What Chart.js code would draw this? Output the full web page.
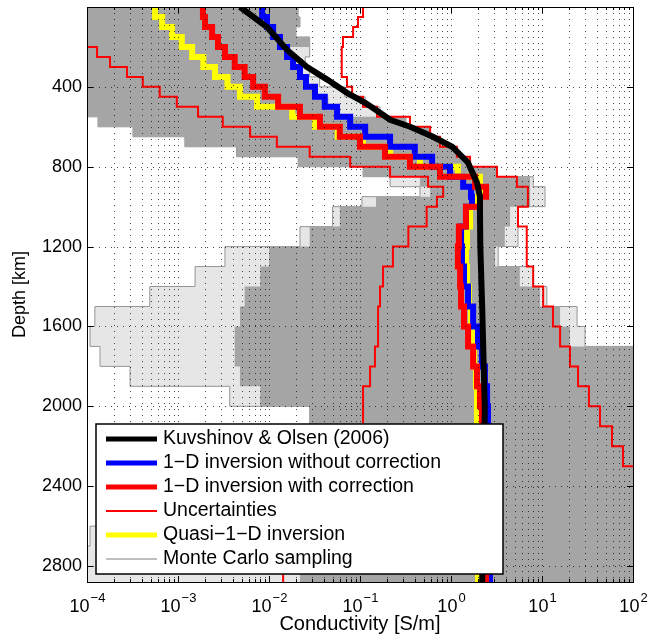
<!DOCTYPE html>
<html>
<head>
<meta charset="utf-8">
<script src="https://cdn.jsdelivr.net/npm/chart.js@4.4.0/dist/chart.umd.min.js"></script>
<style>
  html, body { margin: 0; padding: 0; background: #fff; }
</style>
</head>
<body>
<canvas id="profileChart" width="660" height="638"></canvas>
<script>
// layer tops [km]: 50 km layers down to 1000 km, 100 km layers below
const layerTops = [0, 50, 100, 150, 200, 250, 300, 350, 400, 450, 500, 550, 600, 650, 700, 750, 800, 850, 900, 950,
  1000, 1100, 1200, 1300, 1400, 1500, 1600, 1700, 1800, 1900, 2000, 2100, 2200, 2300, 2400, 2500, 2600, 2700, 2800];
const modelBottom = 2880;

// conductivity per layer [S/m]
const quasi1D = [5.6e-4, 6.7e-4, 8.6e-4, 1.1e-3, 1.43e-3, 1.9e-3, 2.55e-3, 3.5e-3, 4.8e-3, 7.4e-3,
  0.018, 0.032, 0.057, 0.108, 0.214, 0.456, 1.19, 2.08, 2.19, 1.98,
  1.62, 1.50, 1.46, 1.50, 1.58, 1.66, 1.75, 1.79, 1.88, 1.93, 1.93, 1.98, 1.98, 1.98, 1.98, 1.98, 1.98, 1.98, 1.98];
const inv1DCorr = [1.88e-3, 1.98e-3, 2.37e-3, 2.75e-3, 3.28e-3, 4.2e-3, 5.4e-3, 6.7e-3, 9.0e-3, 0.0126,
  0.0219, 0.0363, 0.060, 0.10, 0.188, 0.354, 0.757, 1.84, 2.43, 2.08,
  1.46, 1.22, 1.19, 1.26, 1.29, 1.39, 1.54, 1.75, 1.93, 2.08, 2.19, 2.31, 2.36, 2.43, 2.43, 2.43, 2.43, 2.43, 2.43];
const inv1DNoCorr = [8.4e-3, 9.5e-3, 0.0111, 0.0132, 0.0158, 0.0184, 0.0219, 0.0255, 0.032, 0.041,
  0.056, 0.078, 0.114, 0.214, 0.40, 0.62, 0.975, 1.36, 1.66, 1.70,
  1.46, 1.29, 1.32, 1.39, 1.54, 1.75, 1.98, 2.19, 2.36, 2.49, 2.55, 2.61, 2.68, 2.68, 2.68, 2.68, 2.68, 2.68, 2.68];
const uncertLow = [5e-5, 5e-5, 5e-5, 5e-5, 1.29e-4, 1.79e-4, 2.75e-4, 4.1e-4, 6.3e-4, 9.7e-4,
  1.66e-3, 3.1e-3, 6.2e-3, 0.0122, 0.028, 0.078, 0.214, 0.56, 0.82, 0.70,
  0.54, 0.34, 0.23, 0.179, 0.166, 0.158, 0.158, 0.146, 0.129, 0.108, 0.108, 0.10, 0.078, 0.057, 0.041, 0.030, 0.022, 0.017, 0.0143];
const uncertHigh = [0.108, 0.095, 0.084, 0.065, 0.063, 0.063, 0.063, 0.072, 0.082, 0.108,
  0.154, 0.354, 0.59, 0.757, 1.16, 1.62, 3.2, 5.3, 7.0, 7.0,
  5.45, 6.8, 6.8, 8.0, 10.3, 13.2, 15.8, 20.3, 24.9, 32.8, 43.4, 58.8, 77.6, 150, 150, 150, 150, 150, 150];

// Monte Carlo sampling: full spread of the samples per layer
const mcMin = [3e-5, 3e-5, 3e-5, 3e-5, 3e-5, 3e-5, 3e-5, 3e-5, 3e-5, 3e-5,
  3e-5, 1.32e-4, 3.2e-4, 1.19e-3, 4.4e-3, 0.0209, 0.108, 0.214, 0.456, 0.105,
  0.050, 0.0219, 3.28e-3, 1.54e-3, 4.9e-4, 1.22e-4, 1.08e-4, 1.39e-4, 2.97e-4, 3.7e-3, 0.028, 6.2e-3, 1.93e-3, 4.9e-4, 2.3e-4, 1.39e-4, 1.08e-4, 3e-5, 3e-5];
const mcMax = [0.0209, 0.0219, 0.0198, 0.028, 0.028, 0.025, 0.028, 0.036, 0.068, 0.114,
  0.166, 0.32, 0.59, 0.757, 1.16, 1.62, 3.2, 8.0, 10.8, 10.8,
  5.45, 5.45, 3.3, 8.0, 11.3, 24.3, 29.7, 200, 200, 200, 200, 200, 200, 200, 200, 200, 200, 200, 200];
// Monte Carlo sampling: densely sampled part per layer
const mcCoreMin = [3e-5, 3e-5, 3e-5, 3e-5, 3e-5, 3e-5, 3e-5, 3e-5, 3e-5, 3e-5,
  3e-5, 1.32e-4, 3.2e-4, 1.19e-3, 4.4e-3, 0.0209, 0.108, 0.456, 0.59, 0.15,
  0.06, 0.028, 0.010, 0.0080, 0.0054, 0.0048, 0.0042, 0.0042, 0.0048, 0.0080, 0.028, 0.0219, 0.0219, 0.0219, 0.0219, 0.0219, 0.0219, 0.0219, 0.0219];
const mcCoreMax = [0.0209, 0.0219, 0.0198, 0.028, 0.0165, 0.019, 0.023, 0.027, 0.034, 0.045,
  0.06, 0.32, 0.59, 0.757, 1.16, 1.62, 3.2, 7.4, 7.4, 7.4,
  4.45, 3.9, 3.05, 5.7, 9.5, 15.8, 20.3, 200, 200, 200, 200, 200, 200, 200, 200, 200, 200, 200, 200];

// Kuvshinov & Olsen (2006) reference model
const kuvDepth = [0, 100, 215, 300, 365, 430, 480, 530, 565, 600, 650, 700, 780, 880, 950, 1015, 1200, 1500, 2000, 2400, 2880];
const kuvCond = [0.0048, 0.0095, 0.0158, 0.026, 0.044, 0.072, 0.114, 0.166, 0.214, 0.355, 0.634, 1.03, 1.54, 1.93, 2.08, 2.08, 2.1, 2.2, 2.35, 2.3, 2.2];

const xDecades = [-4, -3, -2, -1, 0, 1, 2];
const yTicks = [400, 800, 1200, 1600, 2000, 2400, 2800];
const legendLabels = ["Kuvshinov & Olsen (2006)", "1\u2212D inversion without correction", "1\u2212D inversion with correction",
  "Uncertainties", "Quasi\u22121\u2212D inversion", "Monte Carlo sampling"];

const FONT = "'Liberation Sans', Arial, Helvetica, sans-serif";

function profile(values) {
  const pts = layerTops.map((d, i) => ({ x: values[i], y: d }));
  pts.push({ x: values[values.length - 1], y: modelBottom });
  return pts;
}

// minor + major positions of the log axis
const xGridValues = [];
xDecades.forEach((e, k) => {
  const base = Math.pow(10, e);
  if (k === xDecades.length - 1) { xGridValues.push(base); return; }
  for (let m = 1; m <= 9; m++) xGridValues.push(m * base);
});

const framePlugin = {
  id: "frame",
  afterDatasetsDraw(chart) {
    const { ctx, chartArea: a, scales: { x, y } } = chart;
    // dotted grid, drawn over the data like the original
    ctx.save();
    ctx.beginPath();
    ctx.rect(a.left, a.top, a.right - a.left, a.bottom - a.top);
    ctx.clip();
    ctx.strokeStyle = "rgba(0,0,0,0.7)";
    ctx.lineWidth = 1;
    ctx.setLineDash([1, 5]);
    xGridValues.forEach(v => {
      const px = Math.round(x.getPixelForValue(v)) + 0.5;
      ctx.beginPath(); ctx.moveTo(px, a.top); ctx.lineTo(px, a.bottom); ctx.stroke();
    });
    yTicks.forEach(v => {
      const py = Math.round(y.getPixelForValue(v)) + 0.5;
      ctx.beginPath(); ctx.moveTo(a.left, py); ctx.lineTo(a.right, py); ctx.stroke();
    });
    ctx.restore();

    // box and inward ticks
    ctx.save();
    ctx.strokeStyle = "#000";
    ctx.lineWidth = 1;
    ctx.strokeRect(Math.round(a.left) + 0.5, Math.round(a.top) + 0.5, Math.round(a.right - a.left), Math.round(a.bottom - a.top));
    ctx.beginPath();
    xGridValues.forEach(v => {
      const px = Math.round(x.getPixelForValue(v)) + 0.5;
      const major = Math.abs(Math.log10(v) - Math.round(Math.log10(v))) < 1e-9;
      const len = major ? 6 : 3;
      ctx.moveTo(px, a.bottom); ctx.lineTo(px, a.bottom - len);
      ctx.moveTo(px, a.top); ctx.lineTo(px, a.top + len);
    });
    yTicks.forEach(v => {
      const py = Math.round(y.getPixelForValue(v)) + 0.5;
      ctx.moveTo(a.left, py); ctx.lineTo(a.left + 6, py);
      ctx.moveTo(a.right, py); ctx.lineTo(a.right - 6, py);
    });
    ctx.stroke();

    // x tick labels 10^n
    ctx.fillStyle = "#000";
    ctx.textBaseline = "alphabetic";
    ctx.textAlign = "left";
    xDecades.forEach(e => {
      const px = x.getPixelForValue(Math.pow(10, e));
      const expText = e < 0 ? "\u2212" + Math.abs(e) : String(e);
      ctx.font = "18px " + FONT;
      const wBase = ctx.measureText("10").width;
      ctx.font = "13px " + FONT;
      const wExp = ctx.measureText(expText).width;
      const start = px - (wBase + wExp) / 2;
      ctx.font = "18px " + FONT;
      ctx.fillText("10", start, a.bottom + 30);
      ctx.font = "13px " + FONT;
      ctx.fillText(expText, start + wBase + 1, a.bottom + 20);
    });
    ctx.restore();
  },
  afterDraw(chart) {
    const { ctx } = chart;
    const box = { left: 96, top: 424, right: 503, bottom: 574 };
    ctx.save();
    ctx.fillStyle = "#fff";
    ctx.fillRect(box.left, box.top, box.right - box.left, box.bottom - box.top);
    ctx.strokeStyle = "#000";
    ctx.lineWidth = 1.5;
    ctx.strokeRect(box.left, box.top, box.right - box.left, box.bottom - box.top);
    ctx.font = "19.5px " + FONT;
    ctx.textBaseline = "middle";
    ctx.textAlign = "left";
    legendLabels.forEach((label, i) => {
      const ds = chart.data.datasets.find(d => d.label === label);
      const yy = box.top + 15 + i * 24;
      ctx.strokeStyle = ds.legendColor || ds.borderColor;
      ctx.lineWidth = ds.legendWidth;
      ctx.beginPath();
      ctx.moveTo(106, yy); ctx.lineTo(157, yy);
      ctx.stroke();
      ctx.fillStyle = "#000";
      ctx.fillText(label, 163, yy);
    });
    ctx.restore();
  }
};

const stepLine = { stepped: "after", pointRadius: 0, clip: 0, fill: false };

new Chart(document.getElementById("profileChart").getContext("2d"), {
  type: "line",
  data: {
    datasets: [
      { label: legendLabels[0], data: kuvDepth.map((d, i) => ({ x: kuvCond[i], y: d })),
        borderColor: "#000000", borderWidth: 6, legendWidth: 5, pointRadius: 0, clip: 0, fill: false, order: 0 },
      Object.assign({ label: legendLabels[2], data: profile(inv1DCorr),
        borderColor: "#ff0000", borderWidth: 6, legendWidth: 5, order: 1 }, stepLine),
      Object.assign({ label: legendLabels[1], data: profile(inv1DNoCorr),
        borderColor: "#0000ff", borderWidth: 6, legendWidth: 5, order: 2 }, stepLine),
      Object.assign({ label: legendLabels[4], data: profile(quasi1D),
        borderColor: "#ffff00", borderWidth: 6, legendWidth: 5, order: 3 }, stepLine),
      Object.assign({ label: legendLabels[3], data: profile(uncertLow),
        borderColor: "#ff0000", borderWidth: 2, legendWidth: 2, order: 4 }, stepLine),
      Object.assign({ label: "Uncertainties (upper)", data: profile(uncertHigh),
        borderColor: "#ff0000", borderWidth: 2, order: 4 }, stepLine),
      // dense part of the Monte Carlo cloud
      Object.assign({}, stepLine, { label: "Monte Carlo (dense, low)", data: profile(mcCoreMin),
        borderWidth: 0, backgroundColor: "rgb(165,165,165)", fill: "+1", order: 6 }),
      Object.assign({}, stepLine, { label: "Monte Carlo (dense, high)", data: profile(mcCoreMax),
        borderWidth: 0, order: 5 }),
      // full spread of the Monte Carlo cloud
      Object.assign({}, stepLine, { label: legendLabels[5], data: profile(mcMin),
        borderColor: "rgb(150,150,150)", legendColor: "rgb(170,170,170)", borderWidth: 1, legendWidth: 1.5,
        backgroundColor: "rgb(230,230,230)", fill: "+1", order: 8 }),
      Object.assign({}, stepLine, { label: "Monte Carlo (max)", data: profile(mcMax),
        borderColor: "rgb(150,150,150)", borderWidth: 1, order: 7 })
    ]
  },
  options: {
    indexAxis: "y",
    responsive: false,
    animation: false,
    events: [],
    layout: { padding: { left: 0, right: 27, top: 7, bottom: 2 } },
    elements: { line: { borderCapStyle: "butt", borderJoinStyle: "miter", tension: 0 } },
    plugins: { legend: { display: false }, tooltip: { enabled: false } },
    scales: {
      x: {
        type: "logarithmic",
        position: "bottom",
        min: 1e-4,
        max: 100,
        grid: { display: false, drawTicks: false },
        border: { display: false },
        ticks: { display: false },
        title: { display: true, text: "Conductivity [S/m]", color: "#000",
          font: { family: FONT, size: 20 }, padding: { top: 0, bottom: 0 } },
        afterFit(s) { s.height = 54; s.paddingLeft = 0; s.paddingRight = 0; }
      },
      y: {
        type: "linear",
        reverse: true,
        min: 0,
        max: modelBottom,
        grid: { display: false, drawTicks: false },
        border: { display: false },
        afterBuildTicks(s) { s.ticks = yTicks.map(v => ({ value: v })); },
        ticks: { color: "#000", padding: 5, font: { family: FONT, size: 18 }, callback: v => String(v) },
        title: { display: true, text: "Depth [km]", color: "#000",
          font: { family: FONT, size: 18 }, padding: { top: 9, bottom: 0 } },
        afterFit(s) { s.width = 87; s.paddingTop = 0; s.paddingBottom = 0; }
      }
    }
  },
  plugins: [framePlugin]
});
</script>
</body>
</html>
